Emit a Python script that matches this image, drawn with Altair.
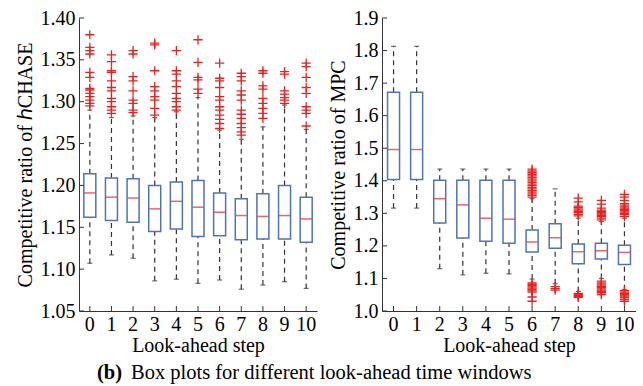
import altair as alt
import pandas as pd

steps = list(range(11))

# ---- left panel: competitive ratio of hCHASE ----
L_q1 = [1.162, 1.158, 1.156, 1.145, 1.148, 1.139, 1.140, 1.135, 1.136, 1.136, 1.132]
L_med = [1.191, 1.186, 1.185, 1.172, 1.181, 1.174, 1.168, 1.164, 1.163, 1.164, 1.160]
L_q3 = [1.214, 1.209, 1.208, 1.200, 1.204, 1.206, 1.191, 1.184, 1.190, 1.200, 1.186]
L_lo = [1.107, 1.117, 1.113, 1.086, 1.088, 1.083, 1.087, 1.076, 1.081, 1.085, 1.077]
L_hi = [1.290, 1.281, 1.283, 1.281, 1.288, 1.305, 1.266, 1.255, 1.270, 1.296, 1.267]
L_out = [
    [1.380, 1.365, 1.361, 1.357, 1.335, 1.329, 1.316, 1.314, 1.310, 1.306, 1.302, 1.298, 1.295],
    [1.356, 1.348, 1.337, 1.335, 1.325, 1.317, 1.313, 1.304, 1.300, 1.294, 1.290, 1.286],
    [1.361, 1.357, 1.330, 1.325, 1.313, 1.302, 1.298, 1.290, 1.287],
    [1.370, 1.368, 1.337, 1.318, 1.313, 1.306, 1.302, 1.292, 1.284],
    [1.361, 1.337, 1.333, 1.325, 1.318, 1.310, 1.304, 1.300, 1.294, 1.290],
    [1.374, 1.347, 1.329, 1.326, 1.315, 1.310],
    [1.346, 1.328, 1.325, 1.317, 1.306, 1.302, 1.294, 1.290, 1.284, 1.279, 1.274, 1.268],
    [1.334, 1.330, 1.325, 1.313, 1.308, 1.302, 1.290, 1.285, 1.280, 1.274, 1.269, 1.264, 1.260],
    [1.337, 1.334, 1.319, 1.315, 1.304, 1.298, 1.292, 1.286, 1.280],
    [1.336, 1.333, 1.313, 1.309, 1.305, 1.302, 1.298],
    [1.346, 1.342, 1.329, 1.317, 1.310, 1.294, 1.290, 1.286, 1.271],
]
L_ticks = [1.05, 1.10, 1.15, 1.20, 1.25, 1.30, 1.35, 1.40]

# ---- right panel: competitive ratio of MPC ----
R_q1 = [1.404, 1.404, 1.270, 1.224, 1.214, 1.208, 1.181, 1.193, 1.145, 1.160, 1.143]
R_med = [1.496, 1.496, 1.345, 1.326, 1.285, 1.282, 1.212, 1.225, 1.182, 1.185, 1.180]
R_q3 = [1.672, 1.672, 1.402, 1.402, 1.402, 1.402, 1.249, 1.268, 1.206, 1.208, 1.202]
R_lo = [1.316, 1.316, 1.130, 1.111, 1.116, 1.114, 1.098, 1.084, 1.060, 1.100, 1.065]
R_hi = [1.813, 1.813, 1.436, 1.436, 1.436, 1.436, 1.345, 1.375, 1.285, 1.275, 1.285]
R_out = [
    [], [], [], [], [], [],
    [1.350, 1.355, 1.360, 1.365, 1.370, 1.375, 1.380, 1.385, 1.390, 1.395, 1.400, 1.405,
     1.410, 1.415, 1.420, 1.425, 1.430, 1.436,
     1.058, 1.062, 1.066, 1.070, 1.074, 1.078, 1.082, 1.086, 1.043, 1.030],
    [1.064, 1.069, 1.075],
    [1.292, 1.297, 1.302, 1.306, 1.310, 1.314, 1.318, 1.322, 1.335, 1.347,
     1.042, 1.045, 1.048, 1.051, 1.054],
    [1.280, 1.285, 1.290, 1.294, 1.298, 1.302, 1.306, 1.310, 1.316, 1.328, 1.340,
     1.050, 1.056, 1.060, 1.064, 1.068, 1.072, 1.076, 1.080, 1.086, 1.092],
    [1.290, 1.296, 1.300, 1.304, 1.308, 1.312, 1.316, 1.320, 1.325, 1.330, 1.340, 1.350, 1.358,
     1.030, 1.036, 1.041, 1.046, 1.050, 1.054, 1.058, 1.063],
]
R_ticks = [1.0, 1.1, 1.2, 1.3, 1.4, 1.5, 1.6, 1.7, 1.8, 1.9]

x_title = "Look-ahead step"
caption_b = "(b)"
caption_text = "Box plots for different look-ahead time windows"

FONT = "Liberation Serif"
BLUE = "#4f74b8"
RED = "#e8231f"
DARK = "#333333"
PLUS = "M-1,0L1,0M0,-1L0,1"


def panel(q1, med, q3, lo, hi, outs, ticks, domain, fmt, ytitle, width, height):
    df = pd.DataFrame({"step": steps, "q1": q1, "med": med, "q3": q3, "lo": lo, "hi": hi})
    odf = pd.DataFrame([{"step": s, "y": v} for s, vals in zip(steps, outs) for v in vals])
    tdf = pd.DataFrame({"y": ticks})
    sdf = pd.DataFrame({"step": steps})

    xaxis = alt.Axis(title=x_title, labelAngle=0, ticks=False, labelPadding=3,
                     titlePadding=1, domainColor=DARK, labelFont=FONT, titleFont=FONT,
                     labelFontSize=20, titleFontSize=20, titleFontWeight="normal")
    yaxis = alt.Axis(title=ytitle, values=ticks, format=fmt, ticks=False,
                     labelPadding=4, titlePadding=5, domainColor=DARK, labelFont=FONT,
                     titleFont=FONT, labelFontSize=20, titleFontSize=20,
                     titleFontWeight="normal")
    xs = alt.Scale(paddingInner=0, paddingOuter=0)
    ys = alt.Scale(domain=domain, nice=False, zero=False)

    def X():
        return alt.X("step:O", scale=xs, axis=xaxis)

    def Y(f):
        return alt.Y(f, type="quantitative", scale=ys, axis=yaxis)

    base = alt.Chart(df)
    wh_up = base.mark_rule(color=DARK, strokeDash=[5, 4], strokeWidth=1.2).encode(
        x=X(), y=Y("q3"), y2="hi")
    wh_lo = base.mark_rule(color=DARK, strokeDash=[5, 4], strokeWidth=1.2).encode(
        x=X(), y=Y("lo"), y2="q1")
    cap_up = base.mark_tick(color=DARK, size=5, thickness=1.2).encode(x=X(), y=Y("hi"))
    cap_lo = base.mark_tick(color=DARK, size=5, thickness=1.2).encode(x=X(), y=Y("lo"))
    box = base.mark_bar(size=12, fill="white", stroke=BLUE, strokeWidth=1.5).encode(
        x=X(), y=Y("q1"), y2="q3")
    med_t = base.mark_tick(color=RED, size=11, thickness=1.5).encode(x=X(), y=Y("med"))
    out = alt.Chart(odf).mark_point(shape=PLUS, filled=False, size=85, color=RED,
                                    strokeWidth=1.3, opacity=1).encode(x=X(), y=Y("y"))
    ytk = alt.Chart(tdf).mark_rule(color=DARK, strokeWidth=1).encode(
        y=Y("y"), x=alt.value(0), x2=alt.value(5))
    xtk = alt.Chart(sdf).mark_rule(color=DARK, strokeWidth=1).encode(
        x=X(), y=alt.value(height), y2=alt.value(height - 5))
    return alt.layer(wh_up, wh_lo, cap_up, cap_lo, box, med_t, out, ytk, xtk).properties(
        width=width, height=height)


left = panel(L_q1, L_med, L_q3, L_lo, L_hi, L_out, L_ticks, [1.05, 1.40], ".2f",
             "Competitive ratio of \u210eCHASE", 238, 293)
right = panel(R_q1, R_med, R_q3, R_lo, R_hi, R_out, R_ticks, [1.0, 1.9], ".1f",
              "Competitive ratio of MPC", 254, 293)

top = alt.hconcat(left, right, spacing=11)

cdf_b = pd.DataFrame({"t": [caption_b]})
cdf_t = pd.DataFrame({"t": [caption_text]})
cap_b = alt.Chart(cdf_b).mark_text(font=FONT, fontSize=20.5, fontWeight="bold", align="left",
                                   baseline="middle", color="black").encode(
    text="t:N", x=alt.value(18), y=alt.value(10))
cap_t = alt.Chart(cdf_t).mark_text(font=FONT, fontSize=20.5, align="left",
                                   baseline="middle", color="black").encode(
    text="t:N", x=alt.value(52), y=alt.value(10))
caption = alt.layer(cap_b, cap_t).properties(width=500, height=20)

chart = alt.vconcat(top, caption, spacing=8).properties(
    padding={"left": 14, "top": 8, "right": 0, "bottom": 0},
    background="white",
).configure(font=FONT).configure_view(stroke=None).configure_axis(grid=False,
    labelColor="black", titleColor="black")

chart.save("out.html", embed_options={"renderer": "svg", "actions": False})
